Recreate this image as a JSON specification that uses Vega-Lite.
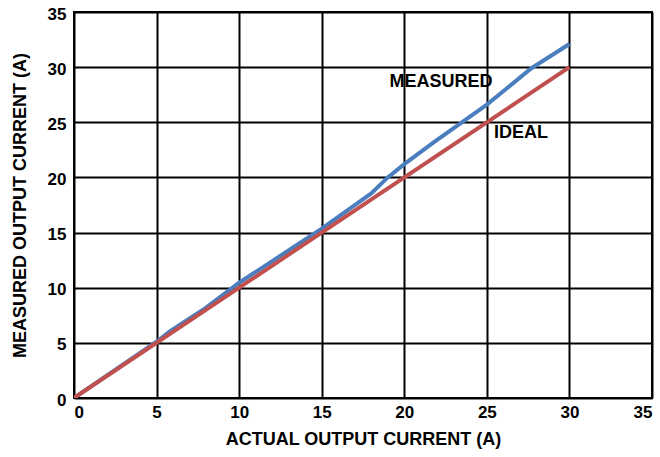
{
  "$schema": "https://vega.github.io/schema/vega-lite/v6.json",
  "width": 578,
  "height": 386,
  "autosize": "none",
  "padding": {"left": 74, "top": 12, "right": 8, "bottom": 59},
  "background": "white",
  "config": {
    "font": "Liberation Sans",
    "view": {"stroke": "black", "strokeWidth": 2},
    "axis": {
      "grid": true,
      "gridColor": "black",
      "gridWidth": 2,
      "gridOpacity": 1,
      "domain": false,
      "ticks": false,
      "labelFont": "Liberation Sans",
      "labelFontWeight": "bold",
      "labelFontSize": 17,
      "labelColor": "black",
      "titleFont": "Liberation Sans",
      "titleFontWeight": "bold",
      "titleFontSize": 18,
      "titleColor": "black"
    }
  },
  "datasets": {
    "curves": [
      {"series": "MEASURED", "x": 0, "y": 0},
      {"series": "MEASURED", "x": 5, "y": 5.1},
      {"series": "MEASURED", "x": 5.8, "y": 6.05},
      {"series": "MEASURED", "x": 8, "y": 8.2},
      {"series": "MEASURED", "x": 10, "y": 10.45},
      {"series": "MEASURED", "x": 15, "y": 15.35},
      {"series": "MEASURED", "x": 16.3, "y": 16.75},
      {"series": "MEASURED", "x": 18, "y": 18.55},
      {"series": "MEASURED", "x": 19, "y": 20.0},
      {"series": "MEASURED", "x": 20, "y": 21.2},
      {"series": "MEASURED", "x": 21.8, "y": 23.2},
      {"series": "MEASURED", "x": 25, "y": 26.6},
      {"series": "MEASURED", "x": 27.7, "y": 29.9},
      {"series": "MEASURED", "x": 30, "y": 32.1},
      {"series": "IDEAL", "x": 0, "y": 0},
      {"series": "IDEAL", "x": 30, "y": 30}
    ],
    "labels": [
      {"text": "MEASURED", "x": 22.23, "y": 28.68},
      {"text": "IDEAL", "x": 27.07, "y": 24.0}
    ]
  },
  "layer": [
    {
      "data": {"name": "curves"},
      "mark": {"type": "line", "strokeWidth": 4, "clip": true},
      "encoding": {
        "x": {
          "field": "x", "type": "quantitative",
          "scale": {"domain": [0, 35], "nice": false},
          "axis": {"values": [0, 5, 10, 15, 20, 25, 30, 35], "title": "ACTUAL OUTPUT CURRENT (A)", "labelPadding": 6, "titlePadding": 10}
        },
        "y": {
          "field": "y", "type": "quantitative",
          "scale": {"domain": [0, 35], "nice": false},
          "axis": {"values": [0, 5, 10, 15, 20, 25, 30, 35], "title": "MEASURED OUTPUT CURRENT (A)", "labelPadding": 8, "labelOffset": 2, "titlePadding": 18}
        },
        "color": {
          "field": "series", "type": "nominal",
          "scale": {"domain": ["MEASURED", "IDEAL"], "range": ["#4a7ebf", "#c0504d"]},
          "legend": null
        },
        "order": {"field": "x", "type": "quantitative"}
      }
    },
    {
      "data": {"name": "labels"},
      "mark": {"type": "text", "font": "Liberation Sans", "fontWeight": "bold", "fontSize": 18, "color": "black"},
      "encoding": {
        "x": {"field": "x", "type": "quantitative"},
        "y": {"field": "y", "type": "quantitative"},
        "text": {"field": "text"}
      }
    }
  ]
}
